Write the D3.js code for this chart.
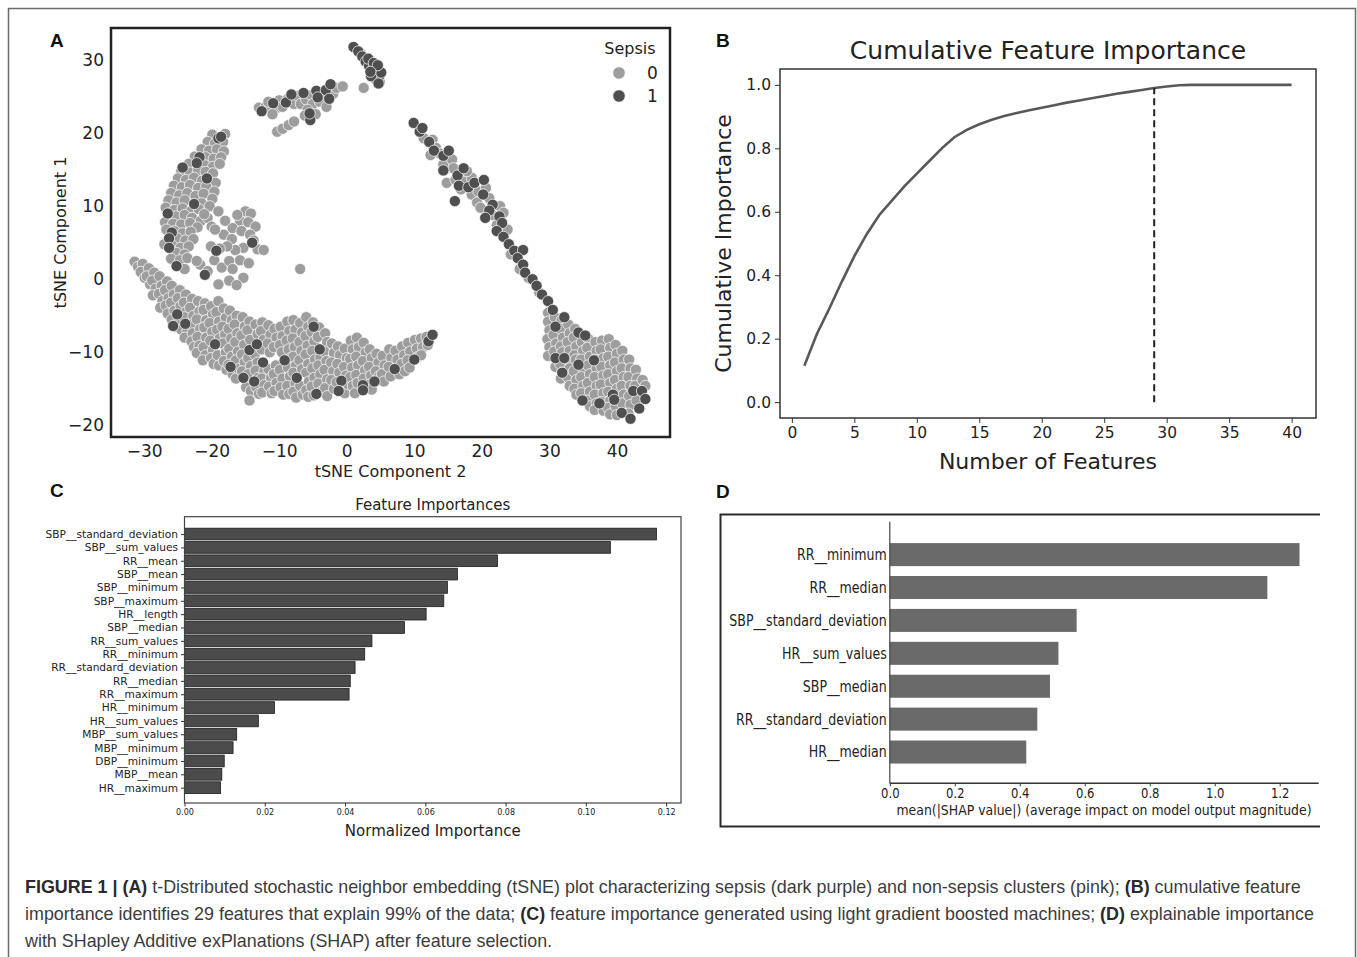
<!DOCTYPE html>
<html><head><meta charset="utf-8">
<script src="https://cdn.jsdelivr.net/npm/d3@7"></script>
<style>
body{margin:0;background:#fff;}
svg text{font-family:"DejaVu Sans",sans-serif;fill:#222;}
.sqr{transform-box:fill-box;transform-origin:right center;transform:scaleX(0.84);}
.sqc{transform-box:fill-box;transform-origin:center;transform:scaleX(0.86);}
</style></head><body>
<svg id="fig" width="1357" height="957"></svg>
<script>
// ---------------- DATA ----------------
// Panel A: tSNE points, [component 2, component 1]
const sepsis0 = [
[-31.4,2.4],[-30.9,1.7],[-30.2,2.1],[-30.5,1.0],[-29.9,0.2],[-29.3,1.5],[-29.6,0.4],[-29.1,-0.7],
[-28.5,0.9],[-28.8,-0.2],[-28.3,-1.3],[-28.7,-2.2],[-27.7,0.4],[-27.4,-0.9],[-27.8,-2.0],[-27.3,-3.0],[-27.6,-3.9],
[-26.6,-0.3],[-26.9,-1.5],[-26.4,-2.6],[-26.8,-3.6],[-26.5,-4.7],[-25.9,-0.9],[-25.6,-2.1],[-26.0,-3.2],[-25.5,-4.3],[-25.9,-5.5],[-25.4,-6.5],
[-24.7,-1.5],[-25.0,-2.6],[-24.6,-3.7],[-24.9,-5.7],[-24.5,-6.9],[-23.8,-2.1],[-24.1,-3.2],[-23.7,-4.4],[-24.0,-5.2],[-23.6,-7.2],[-24.0,-8.0],
[-22.9,-2.7],[-23.2,-3.9],[-22.7,-5.0],[-23.1,-6.2],[-22.8,-7.4],[-23.0,-8.5],[-22.6,-9.3],
[-22.0,-3.0],[-21.8,-4.4],[-22.2,-5.5],[-21.7,-6.8],[-22.1,-7.9],[-21.8,-9.1],[-22.2,-10.1],
[-21.0,-3.3],[-21.2,-4.2],[-20.8,-5.6],[-21.1,-6.6],[-20.8,-8.0],[-21.2,-9.3],[-20.9,-10.4],[-21.3,-11.1],
[-20.1,-3.7],[-19.8,-4.8],[-20.3,-6.0],[-19.9,-7.2],[-20.2,-8.4],[-19.8,-9.7],[-20.1,-10.8],[-19.7,-11.6],
[-19.0,-3.0],[-19.3,-4.5],[-18.9,-5.8],[-19.2,-6.9],[-18.8,-8.1],[-19.1,-10.4],[-18.9,-11.8],
[-18.2,-4.0],[-17.9,-5.3],[-18.4,-6.5],[-18.0,-7.6],[-18.3,-8.8],[-17.9,-10.0],[-18.2,-11.2],[-17.8,-12.4],
[-17.3,-4.3],[-17.0,-5.6],[-17.5,-6.8],[-17.1,-8.1],[-17.4,-9.5],[-17.0,-10.6],[-17.5,-11.7],[-16.9,-13.0],
[-16.3,-5.0],[-16.6,-6.2],[-16.2,-7.4],[-16.5,-8.6],[-16.1,-9.9],[-16.4,-11.1],[-16.0,-12.3],[-16.4,-13.6],
[-15.4,-5.2],[-15.1,-6.5],[-15.6,-7.7],[-15.2,-9.0],[-15.5,-10.3],[-15.1,-11.4],[-15.5,-12.6],[-14.9,-14.8],
[-14.4,-5.8],[-14.7,-7.0],[-14.3,-8.3],[-14.6,-10.8],[-14.2,-11.9],[-14.6,-13.0],[-14.2,-15.3],[-14.4,-16.6],
[-13.5,-6.2],[-13.2,-7.5],[-13.6,-10.3],[-13.2,-11.4],[-13.5,-12.5],[-13.1,-13.5],[-13.4,-14.8],[-13.0,-15.7],
[-12.5,-5.9],[-12.7,-7.1],[-12.3,-8.3],[-12.6,-9.6],[-12.2,-12.6],[-12.6,-13.6],[-12.2,-14.5],[-12.5,-15.5],
[-11.6,-6.3],[-11.3,-7.6],[-11.7,-8.8],[-11.4,-10.0],[-11.6,-12.3],[-11.2,-13.5],[-11.5,-14.7],[-11.1,-15.6],
[-10.7,-6.8],[-10.4,-8.0],[-10.8,-9.3],[-10.5,-11.8],[-10.8,-13.0],[-10.4,-14.2],[-10.7,-15.3],
[-9.8,-6.5],[-9.5,-7.8],[-9.9,-9.0],[-9.6,-10.0],[-9.9,-12.4],[-9.5,-13.6],[-9.8,-14.8],[-9.4,-15.8],
[-8.8,-5.8],[-8.5,-7.1],[-8.9,-8.4],[-8.6,-9.6],[-8.3,-10.8],[-8.7,-12.1],[-8.4,-13.3],[-8.8,-14.6],[-8.5,-15.7],
[-7.9,-5.6],[-7.6,-6.9],[-8.0,-8.1],[-7.7,-9.3],[-7.9,-10.6],[-7.5,-11.8],[-7.9,-12.8],[-7.6,-14.3],[-7.9,-15.4],[-7.5,-16.2],
[-6.9,-6.0],[-6.6,-7.3],[-7.0,-8.6],[-6.7,-9.8],[-7.0,-11.1],[-6.6,-12.3],[-6.9,-14.6],[-6.5,-15.8],
[-6.0,-5.2],[-5.7,-6.5],[-6.1,-7.8],[-5.8,-9.1],[-6.1,-10.3],[-5.7,-11.6],[-6.0,-12.8],[-5.6,-14.0],[-6.0,-15.2],[-5.7,-16.1],
[-5.0,-5.9],[-5.2,-7.2],[-4.8,-8.5],[-5.1,-9.8],[-4.7,-11.0],[-5.1,-12.2],[-4.8,-13.5],[-5.2,-14.7],[-4.9,-15.9],
[-4.1,-6.6],[-4.3,-7.9],[-3.9,-10.7],[-4.2,-11.8],[-3.9,-13.0],[-4.2,-14.3],[-3.8,-15.4],
[-3.2,-7.4],[-2.9,-8.6],[-3.3,-9.9],[-3.0,-11.2],[-3.3,-12.4],[-2.9,-13.7],[-3.2,-14.9],[-2.9,-16.0],
[-2.2,-8.8],[-1.9,-10.1],[-2.3,-11.4],[-2.0,-12.6],[-2.3,-13.8],[-1.9,-15.0],
[-1.3,-9.2],[-1.0,-10.4],[-1.4,-11.6],[-1.1,-12.8],[-1.5,-14.1],[-0.3,-15.6],
[-0.3,-9.5],[0.0,-10.8],[-0.4,-12.0],[-0.1,-13.2],[0.2,-14.4],
[0.6,-8.4],[0.9,-9.6],[0.5,-10.9],[0.8,-12.1],[0.5,-13.4],[0.9,-14.6],[1.2,-15.6],
[1.5,-8.0],[1.8,-9.3],[1.4,-10.6],[1.7,-11.8],[1.4,-13.1],[1.6,-14.2],
[2.5,-8.7],[2.8,-10.0],[2.4,-11.2],[2.7,-12.5],[2.5,-13.6],
[3.4,-9.6],[3.7,-10.8],[3.3,-12.0],[3.6,-13.2],[3.4,-14.4],[3.7,-15.1],
[4.4,-10.2],[4.7,-11.4],[4.3,-12.6],[4.8,-13.3],[5.3,-10.5],[5.6,-11.8],[5.2,-13.0],[5.5,-14.0],
[6.3,-9.6],[6.6,-10.8],[6.2,-12.0],[6.5,-13.3],[7.2,-9.8],[7.5,-11.0],[7.8,-13.0],
[8.2,-9.2],[8.5,-10.4],[8.1,-11.6],[8.6,-12.6],[9.1,-8.7],[9.4,-9.9],[9.0,-11.1],[9.3,-12.1],
[10.1,-8.3],[10.4,-9.5],[10.6,-10.6],[11.0,-8.1],[11.3,-9.3],[11.0,-10.4],[11.8,-7.9],[12.0,-9.0],
// upper-left arm
[-19.9,19.8],[-18.0,19.9],[-20.6,18.8],[-19.5,18.6],[-18.3,18.8],
[-21.5,17.8],[-20.4,17.6],[-19.2,17.8],[-18.2,17.5],[-22.5,16.8],[-20.9,16.7],[-19.7,16.5],[-18.6,16.7],
[-23.4,15.8],[-21.0,15.6],[-19.8,15.4],[-18.8,15.8],[-24.5,14.8],[-23.2,14.6],[-22.0,14.9],[-20.9,14.7],[-19.8,14.5],
[-25.0,13.8],[-23.8,13.6],[-22.6,13.9],[-21.4,13.5],[-19.4,13.2],[-25.6,12.8],[-24.4,12.6],[-23.2,12.9],[-22.0,12.5],[-20.8,12.7],[-19.6,12.0],
[-26.0,11.8],[-24.8,11.5],[-23.6,11.8],[-22.4,11.4],[-21.2,11.7],[-19.9,11.0],[-26.4,10.8],[-25.2,10.5],[-24.0,10.8],[-21.5,10.4],[-20.3,10.0],
[-26.8,9.8],[-25.5,9.5],[-24.3,9.7],[-23.1,9.3],[-21.9,9.6],[-25.3,8.6],[-24.0,8.8],[-22.9,8.4],[-21.6,8.0],
[-26.9,7.8],[-25.7,7.6],[-24.5,7.5],[-23.2,7.7],[-22.1,7.1],[-26.7,6.8],[-25.5,6.6],[-24.3,6.3],[-23.1,6.5],
[-25.1,5.6],[-23.9,5.3],[-22.7,5.5],[-27.0,4.8],[-25.8,4.6],[-24.6,4.3],[-23.4,4.5],[-25.2,3.6],[-24.0,3.4],
[-26.0,2.8],[-24.7,2.6],[-23.6,2.9],[-24.0,1.4],
// inner blob
[-15.0,9.3],[-14.2,9.0],[-15.8,8.0],[-14.6,7.8],[-13.5,7.2],[-16.9,7.0],[-15.6,6.6],[-18.2,6.1],[-14.3,6.1],[-17.0,5.5],
[-13.2,4.1],[-12.3,4.0],[-15.3,4.3],[-16.5,4.0],[-17.7,4.5],[-18.8,4.2],[-20.1,4.5],[-21.7,2.0],[-20.6,1.1],[-19.6,2.6],
[-18.5,1.6],[-17.4,2.5],[-16.9,1.4],[-15.3,0.2],[-15.8,2.6],[-19.0,-0.7],[-17.4,-0.2],[-20.6,8.4],[-19.0,9.3],[-21.1,8.9],
[-22.2,2.5],[-14.5,2.2],[-16.3,-0.8],[-20.0,7.2],[-13.8,5.3],[-16.2,8.8],[-19.5,6.8],[-18.0,8.0],
// upper arc
[-13.0,23.5],[-12.0,23.6],[-11.6,24.3],[-10.5,23.4],[-10.0,24.5],[-9.5,23.6],[-8.8,24.6],[-7.8,24.0],[-7.2,25.1],[-6.8,24.0],
[-6.0,24.6],[-5.2,25.2],[-5.0,24.0],[-4.0,24.3],[-3.6,25.3],[-2.0,25.4],[-1.5,26.2],[-0.6,26.4],[-3.0,23.6],[-5.8,23.2],
[-4.6,22.6],[-6.2,22.4],[-11.0,22.6],[-10.3,20.2],[-9.5,20.6],[-8.6,21.1],[-7.8,21.6],
// diagonal band
[11.4,19.3],[12.7,19.1],[13.2,18.0],[12.4,17.0],[14.3,15.7],[15.6,16.4],[15.8,15.2],[14.8,13.2],[16.1,13.6],[16.9,12.3],
[17.4,13.4],[18.5,13.9],[18.5,11.6],[19.5,12.0],[19.3,10.5],[19.8,9.8],[20.6,12.5],[21.1,11.1],[22.7,10.0],[23.2,9.1],
[22.2,7.4],[23.8,6.8],[24.3,3.4],[25.6,1.4],[26.9,0.2],[28.5,-1.8],[17.8,14.8],[21.5,8.8],[13.8,17.2],
// right blob
[29.8,-4.6],[29.8,-5.8],[30.0,-7.0],[29.7,-8.2],[30.0,-9.3],[29.8,-10.5],
[30.8,-5.2],[30.6,-7.6],[31.0,-8.8],[30.7,-9.9],[30.9,-12.0],
[31.8,-5.6],[31.6,-6.8],[32.0,-8.0],[31.7,-9.2],[31.9,-10.0],[31.6,-11.6],[31.9,-12.8],[31.7,-13.6],
[32.8,-6.2],[33.0,-7.4],[32.7,-8.6],[33.0,-9.8],[32.7,-11.0],[33.0,-12.2],[32.7,-13.4],[33.0,-14.6],
[33.8,-6.8],[33.6,-8.0],[34.0,-9.2],[33.7,-10.4],[33.9,-11.0],[33.6,-12.6],[34.0,-13.8],[33.7,-15.0],[34.0,-15.8],
[34.8,-8.6],[35.0,-9.8],[34.7,-11.0],[35.0,-12.2],[34.7,-13.4],[35.0,-14.6],[34.7,-15.6],
[35.8,-8.2],[35.6,-9.4],[36.0,-10.6],[35.7,-11.8],[36.0,-13.0],[35.7,-14.2],[36.0,-15.4],[35.7,-16.6],[36.0,-17.4],
[36.8,-8.6],[37.0,-9.8],[36.7,-11.0],[37.0,-12.2],[36.7,-13.4],[37.0,-14.6],[36.7,-15.8],[37.0,-17.0],[36.7,-17.9],
[37.8,-8.4],[37.6,-9.6],[38.0,-10.8],[37.7,-12.0],[38.0,-13.2],[37.6,-14.4],[38.0,-15.6],[37.7,-16.8],[38.0,-18.0],
[38.8,-8.2],[39.0,-9.4],[38.7,-10.6],[39.0,-11.8],[38.7,-13.0],[39.0,-14.2],[38.7,-15.4],[39.0,-16.6],[38.7,-17.6],[39.0,-18.5],
[39.8,-9.0],[40.0,-10.2],[39.7,-11.4],[40.0,-12.6],[39.7,-13.8],[40.0,-15.0],[39.8,-17.4],[40.0,-18.6],
[40.8,-9.8],[41.0,-11.0],[40.7,-12.2],[41.0,-13.4],[40.7,-14.6],[41.0,-15.8],[40.8,-17.0],
[41.8,-11.0],[42.0,-12.2],[41.7,-13.4],[42.0,-14.6],[41.8,-16.0],[42.0,-17.2],[41.7,-18.4],
[42.8,-12.4],[43.0,-13.6],[42.7,-14.6],[42.9,-16.6],[43.8,-13.8],[44.2,-14.6],
// top cluster and outlier
[2.5,26.2],[2.0,31.0],[4.9,27.0],[-6.9,1.4]
];
const sepsis1 = [
[1.0,31.8],[1.7,31.2],[2.3,30.5],[2.8,29.8],[3.3,29.2],[3.9,28.8],[4.5,28.6],[4.8,27.8],[4.2,27.5],[3.6,27.8],
[4.7,26.8],[5.1,28.3],[3.2,30.2],[4.0,29.6],[4.6,29.3],[3.5,28.4],
[-12.6,23.0],[-10.9,24.1],[-9.0,24.2],[-8.2,25.3],[-6.4,25.5],[-4.5,25.8],[-3.1,25.9],[-2.4,26.7],[-4.3,24.9],[-5.4,21.8],[-5.5,22.7],[-2.6,24.7],
[-19.0,19.3],[-18.6,19.5],[-21.8,16.7],[-22.2,15.9],[-24.3,15.3],[-20.7,13.8],[-22.6,10.3],[-26.5,9.0],[-25.9,6.4],[-26.3,5.6],[-26.3,4.3],[-25.2,1.8],
[-21.0,0.6],[-19.3,3.9],[-14.0,5.0],
[-25.1,-4.8],[-25.7,-6.4],[-23.9,-6.1],[-19.5,-8.9],[-17.2,-12.0],[-15.3,-13.5],[-13.7,-14.0],[-14.4,-9.7],[-13.3,-8.9],[-12.4,-11.4],
[-9.2,-11.1],[-7.4,-13.5],[-4.9,-6.5],[-4.0,-9.6],[-4.5,-15.7],[-0.8,-13.9],[-1.2,-15.3],[2.4,-14.5],[2.4,-15.2],[4.1,-14.0],
[7.1,-12.3],[10.0,-11.0],[12.1,-8.5],[12.7,-7.6],
[9.9,21.4],[10.8,20.2],[11.2,20.7],[12.2,18.8],[12.9,17.6],[14.3,16.9],[15.1,17.6],[14.3,14.9],[16.4,14.2],[17.3,15.2],
[16.6,12.8],[18.0,12.6],[18.9,13.2],[20.3,13.6],[20.2,11.6],[21.6,10.2],[21.1,9.4],[20.5,8.4],[22.6,8.6],[23.0,7.7],
[22.2,6.6],[23.2,5.8],[24.0,4.8],[24.8,3.9],[26.1,4.0],[25.3,2.9],[26.1,2.0],[26.4,0.9],[27.5,0.0],[28.1,-0.9],
[28.9,-2.1],[29.8,-3.0],[30.5,-4.2],[16.0,10.7],
[32.2,-5.2],[30.9,-6.5],[34.3,-7.3],[35.3,-7.7],[30.9,-10.8],[32.2,-10.8],[34.3,-11.7],[36.6,-11.1],[31.9,-12.8],[34.9,-16.6],
[37.4,-17.0],[39.4,-15.8],[39.6,-16.5],[40.7,-18.3],[42.0,-19.1],[43.3,-17.7],[42.4,-15.3],[43.7,-15.3],[44.2,-16.4]
];
const tsneXTicks = [-30,-20,-10,0,10,20,30,40];
const tsneYTicks = [-20,-10,0,10,20,30];
const sepsisClasses = ["0","1"];

// Panel B: cumulative importance for 1..40 features
const cumFeatureCounts = [1,2,3,4,5,6,7,8,9,10,11,12,13,14,15,16,17,18,19,20,21,22,23,24,25,26,27,28,29,30,31,32,33,34,35,36,37,38,39,40];
const cumImportance = [0.115,0.215,0.295,0.38,0.46,0.53,0.59,0.635,0.68,0.72,0.76,0.80,0.835,0.858,0.876,0.89,0.902,0.911,0.92,0.928,
0.936,0.944,0.951,0.958,0.965,0.972,0.978,0.984,0.99,0.995,0.999,1.0,1.0,1.0,1.0,1.0,1.0,1.0,1.0,1.0];
const cutoffFeatures = 29;
const cumXTicks = [0,5,10,15,20,25,30,35,40];
const cumYTicks = [0.0,0.2,0.4,0.6,0.8,1.0];

// Panel C: LightGBM feature importances
const fiNames = ["SBP__standard_deviation","SBP__sum_values","RR__mean","SBP__mean","SBP__minimum","SBP__maximum","HR__length","SBP__median","RR__sum_values","RR__minimum","RR__standard_deviation","RR__median","RR__maximum","HR__minimum","HR__sum_values","MBP__sum_values","MBP__minimum","DBP__minimum","MBP__mean","HR__maximum"];
const fiValues = [0.1176,0.1061,0.0780,0.0680,0.0655,0.0646,0.0602,0.0548,0.0467,0.0449,0.0425,0.0413,0.0410,0.0224,0.0184,0.0130,0.0121,0.0099,0.0093,0.0090];
const fiTicks = [0.00,0.02,0.04,0.06,0.08,0.10,0.12];

// Panel D: SHAP
const shapNames = ["RR__minimum","RR__median","SBP__standard_deviation","HR__sum_values","SBP__median","RR__standard_deviation","HR__median"];
const shapValues = [1.261,1.162,0.575,0.519,0.493,0.454,0.420];
const shapTicks = [0.0,0.2,0.4,0.6,0.8,1.0,1.2];

// ---------------- DRAW ----------------
const svg = d3.select("#fig");
svg.append("rect").attr("x",8.5).attr("y",8.5).attr("width",1347).attr("height",970)
  .attr("fill","none").attr("stroke","#6a6a6a").attr("stroke-width",1.5);

function panelLabel(t,x,y){
  svg.append("text").attr("x",x).attr("y",y).text(t)
    .style("font-family","'Liberation Sans',Arial,sans-serif").style("font-weight","bold").style("font-size","19px").style("fill","#111");
}
panelLabel("A",50,47); panelLabel("B",716,47); panelLabel("C",50,497); panelLabel("D",716,498);

// ----- Panel A -----
const A = {l:111,r:670,t:28,b:437};
const xA = d3.scaleLinear().domain([-34.9,47.85]).range([A.l,A.r]);
const yA = d3.scaleLinear().domain([-21.6,34.4]).range([A.b,A.t]);
const colA = d3.scaleOrdinal().domain(sepsisClasses).range(["#9d9d9d","#4f4f4f"]);
const gA = svg.append("g");
gA.append("g").selectAll("circle").data(sepsis0).join("circle")
  .attr("cx",d=>xA(d[0])).attr("cy",d=>yA(d[1])).attr("r",5.6)
  .attr("fill",colA("0")).attr("stroke","#fff").attr("stroke-width",0.7);
gA.append("g").selectAll("circle").data(sepsis1).join("circle")
  .attr("cx",d=>xA(d[0])).attr("cy",d=>yA(d[1])).attr("r",5.6)
  .attr("fill",colA("1")).attr("stroke","#fff").attr("stroke-width",0.7);
gA.append("rect").attr("x",A.l).attr("y",A.t).attr("width",A.r-A.l).attr("height",A.b-A.t)
  .attr("fill","none").attr("stroke","#222").attr("stroke-width",2.5);
const axAx = gA.append("g").attr("transform",`translate(0,${A.b})`)
  .call(d3.axisBottom(xA).tickValues(tsneXTicks).tickSize(0).tickPadding(8));
const axAy = gA.append("g").attr("transform",`translate(${A.l},0)`)
  .call(d3.axisLeft(yA).tickValues(tsneYTicks).tickSize(0).tickPadding(7));
[axAx,axAy].forEach(g=>{g.select(".domain").remove();
  g.selectAll("text").style("font-size","17px").style("fill","#222").style("font-family","'DejaVu Sans',sans-serif");});
gA.append("text").attr("x",(A.l+A.r)/2).attr("y",477).attr("text-anchor","middle").style("font-size","16px").text("tSNE Component 2");
gA.append("text").attr("transform",`translate(66,${(A.t+A.b)/2}) rotate(-90)`).attr("text-anchor","middle").style("font-size","16px").text("tSNE Component 1");
// legend
gA.append("text").attr("x",630).attr("y",54).attr("text-anchor","middle").style("font-size","16px").text("Sepsis");
sepsisClasses.forEach((c,i)=>{
  gA.append("circle").attr("cx",619).attr("cy",73+i*23).attr("r",6.2).attr("fill",colA(c)).attr("stroke","#fff").attr("stroke-width",0.7);
  gA.append("text").attr("x",647).attr("y",79+i*23).style("font-size","17px").text(c);
});

// ----- Panel B -----
const B = {l:780,r:1316,t:69,b:418};
const xB = d3.scaleLinear().domain([-0.95,41.95]).range([B.l,B.r]);
const yB = d3.scaleLinear().domain([-0.05,1.05]).range([B.b,B.t]);
const gB = svg.append("g");
gB.append("path").datum(cumImportance)
  .attr("d",d3.line().x((d,i)=>xB(cumFeatureCounts[i])).y(d=>yB(d)))
  .attr("fill","none").attr("stroke","#585858").attr("stroke-width",2.6);
gB.append("line").attr("x1",xB(cutoffFeatures)).attr("x2",xB(cutoffFeatures))
  .attr("y1",yB(0)).attr("y2",yB(cumImportance[cutoffFeatures-1]))
  .attr("stroke","#222").attr("stroke-width",2).attr("stroke-dasharray","7,4");
gB.append("rect").attr("x",B.l).attr("y",B.t).attr("width",B.r-B.l).attr("height",B.b-B.t)
  .attr("fill","none").attr("stroke","#333").attr("stroke-width",1.5);
const axBx = gB.append("g").attr("transform",`translate(0,${B.b})`)
  .call(d3.axisBottom(xB).tickValues(cumXTicks).tickSize(5).tickPadding(4));
const axBy = gB.append("g").attr("transform",`translate(${B.l},0)`)
  .call(d3.axisLeft(yB).tickValues(cumYTicks).tickSize(5).tickPadding(4).tickFormat(d3.format(".1f")));
[axBx,axBy].forEach(g=>{g.select(".domain").remove();
  g.selectAll("line").attr("stroke","#333");
  g.selectAll("text").style("font-size","15.5px").style("fill","#222").style("font-family","'DejaVu Sans',sans-serif");});
gB.append("text").attr("x",(B.l+B.r)/2).attr("y",59).attr("text-anchor","middle").style("font-size","25px").text("Cumulative Feature Importance");
gB.append("text").attr("x",(B.l+B.r)/2).attr("y",469).attr("text-anchor","middle").style("font-size","22px").text("Number of Features");
gB.append("text").attr("transform",`translate(731,${(B.t+B.b)/2}) rotate(-90)`).attr("text-anchor","middle").style("font-size","22px").text("Cumulative Importance");

// ----- Panel C -----
const C = {l:184.5,r:681,t:516.7,b:803};
const xC = d3.scaleLinear().domain([0,0.1237]).range([C.l,C.r]);
const yC = d3.scaleLinear().domain([-1.3,20.15]).range([C.t,C.b]);
const gC = svg.append("g");
const bh = 0.88;
gC.selectAll("rect.bar").data(fiValues).join("rect").attr("class","bar")
  .attr("x",xC(0)).attr("y",(d,i)=>yC(i-bh/2)).attr("width",d=>xC(d)-xC(0)).attr("height",yC(bh)-yC(0))
  .attr("fill","#4b4b4b").attr("stroke","#1e1e1e").attr("stroke-width",0.8);
gC.append("rect").attr("x",C.l).attr("y",C.t).attr("width",C.r-C.l).attr("height",C.b-C.t)
  .attr("fill","none").attr("stroke","#444").attr("stroke-width",1.2);
const axCx = gC.append("g").attr("transform",`translate(0,${C.b})`)
  .call(d3.axisBottom(xC).tickValues(fiTicks).tickSize(3.5).tickPadding(3).tickFormat(d3.format(".2f")));
const axCy = gC.append("g").attr("transform",`translate(${C.l},0)`)
  .call(d3.axisLeft(yC).tickValues(d3.range(fiNames.length)).tickSize(3.5).tickPadding(3).tickFormat(i=>fiNames[i]));
[axCx,axCy].forEach(g=>{g.select(".domain").remove(); g.selectAll("line").attr("stroke","#333");
  g.selectAll("text").style("fill","#222").style("font-family","'DejaVu Sans',sans-serif");});
axCx.selectAll("text").style("font-size","8px");
axCy.selectAll("text").style("font-size","10.6px");
gC.append("text").attr("x",(C.l+C.r)/2).attr("y",510).attr("text-anchor","middle").style("font-size","15px").text("Feature Importances");
gC.append("text").attr("x",(C.l+C.r)/2).attr("y",836).attr("text-anchor","middle").style("font-size","15px").text("Normalized Importance");

// ----- Panel D -----
const D = {l:889.8,r:1318.7,t:521.7,b:783.3};
const xD = d3.scaleLinear().domain([0,1.32]).range([D.l,D.r]);
const yD = d3.scaleLinear().domain([-1.0,6.95]).range([D.t,D.b]);
const gD = svg.append("g");
gD.append("path").attr("d",`M1320,514.5H720.5V826.5H1320`).attr("fill","none").attr("stroke","#2a2a2a").attr("stroke-width",2);
gD.selectAll("rect.bar").data(shapValues).join("rect").attr("class","bar")
  .attr("x",xD(0)).attr("y",(d,i)=>yD(i-0.35)).attr("width",d=>xD(d)-xD(0)).attr("height",yD(0.7)-yD(0))
  .attr("fill","#6a6a6a");
gD.append("line").attr("x1",D.l).attr("x2",D.l).attr("y1",D.t).attr("y2",D.b).attr("stroke","#444").attr("stroke-width",1.2);
gD.append("line").attr("x1",D.l).attr("x2",D.r).attr("y1",D.b).attr("y2",D.b).attr("stroke","#333").attr("stroke-width",1.5);
const axDx = gD.append("g").attr("transform",`translate(0,${D.b})`)
  .call(d3.axisBottom(xD).tickValues(shapTicks).tickSize(3).tickPadding(2).tickFormat(d3.format(".1f")));
axDx.select(".domain").remove(); axDx.selectAll("line").attr("stroke","#333");
axDx.selectAll("text").style("font-size","13.5px").style("fill","#222").attr("class","sqc");
shapNames.forEach((n,i)=>{
  gD.append("text").attr("x",D.l-3).attr("y",yD(i)).attr("dy","0.36em").attr("text-anchor","end")
    .attr("class","sqr").style("font-size","15px").text(n);
});
gD.append("text").attr("x",1104).attr("y",815).attr("text-anchor","middle").attr("class","sqc")
  .style("font-size","14.5px").text("mean(|SHAP value|) (average impact on model output magnitude)");

// ----- Caption -----
const capLines = [
 [["FIGURE 1 | (A)",1],[" t-Distributed stochastic neighbor embedding (tSNE) plot characterizing sepsis (dark purple) and non-sepsis clusters (pink); ",0],["(B)",1],[" cumulative feature",0]],
 [["importance identifies 29 features that explain 99% of the data; ",0],["(C)",1],[" feature importance generated using light gradient boosted machines; ",0],["(D)",1],[" explainable importance",0]],
 [["with SHapley Additive exPlanations (SHAP) after feature selection.",0]]
];
capLines.forEach((line,li)=>{
  const t = svg.append("text").attr("x",25).attr("y",893+li*27)
    .style("font-family","'Liberation Sans',Arial,Helvetica,sans-serif").style("font-size","17.9px");
  line.forEach(([s,b])=>t.append("tspan").text(s).style("font-weight",b?"bold":"normal").style("fill",b?"#2a2a2a":"#3c3c3c"));
});
</script>
</body></html>
